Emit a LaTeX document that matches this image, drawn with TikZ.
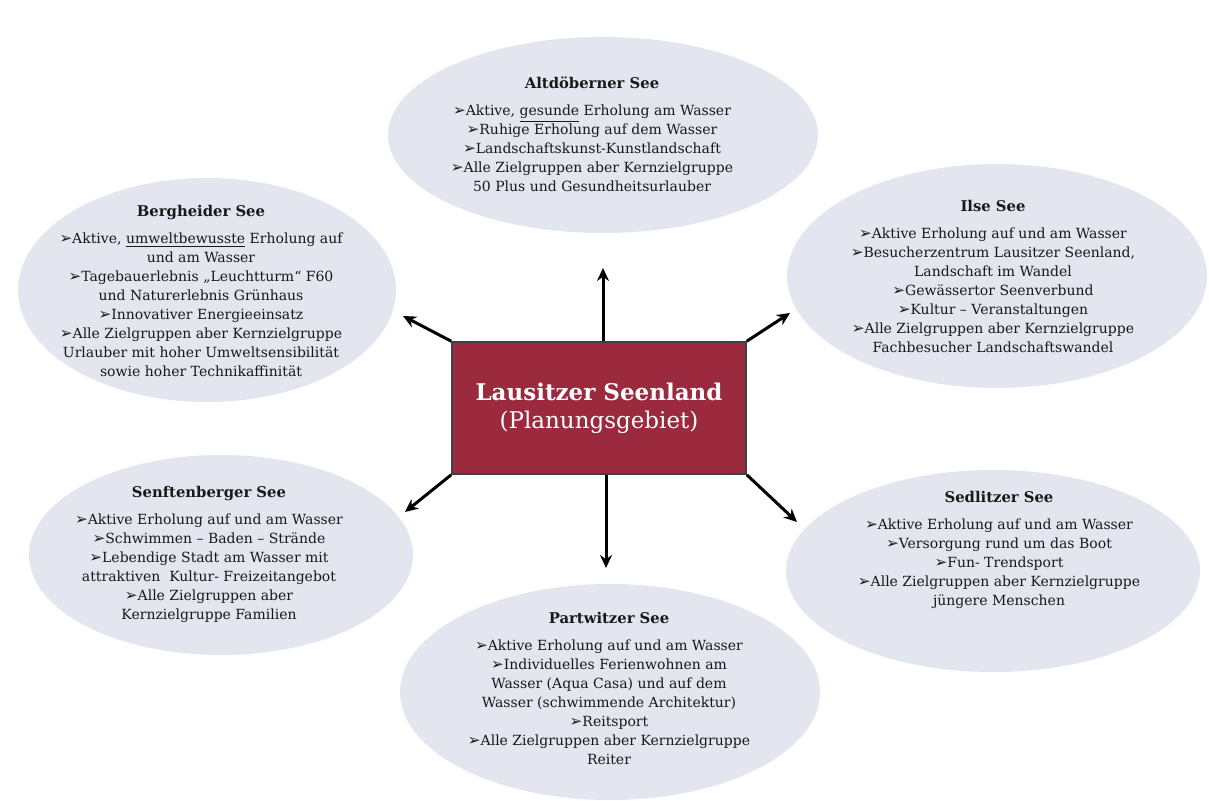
\documentclass[tikz,border=0pt]{standalone}
\usepackage{fontspec}
\setmainfont{DejaVu Serif}
\newfontfamily\zeichenfont{DejaVu Sans}
\usetikzlibrary{shapes.geometric,arrows.meta}
\definecolor{seegrau}{RGB}{227,229,239}
\definecolor{kastenrot}{RGB}{155,42,62}
\newcommand{\pf}{{\zeichenfont\fontsize{7.6}{9.5}\selectfont ➢}}
\newcommand{\seename}[1]{{\fontsize{7.4}{9.5}\selectfont\bfseries #1}}

\begin{document}
\begin{tikzpicture}[x=0.5pt,y=-0.5pt,
  see/.style={ellipse,fill=seegrau,inner sep=0pt},
  seetext/.style={align=center,inner sep=0pt,text=black!90,font=\fontsize{7}{9.5}\selectfont},
  pfeil/.style={-{Stealth[length=6.5pt,width=6pt]},line width=1.5pt}]
  \useasboundingbox (0,0) rectangle (1209,801);
  % die Seen
  \node[see,minimum width=215pt,minimum height=98pt]   (alt)  at (603,135) {};
  \node[see,minimum width=189pt,minimum height=112pt]  (berg) at (207,290) {};
  \node[see,minimum width=210pt,minimum height=112pt]  (ilse) at (997,276) {};
  \node[see,minimum width=192pt,minimum height=100pt]  (senf) at (221,555) {};
  \node[see,minimum width=207pt,minimum height=101pt]  (sedl) at (993,571) {};
  \node[see,minimum width=210pt,minimum height=108pt]  (part) at (610,692) {};
  \node[seetext] (alt-t) at (592,134) {\seename{Altdöberner See}\\[4pt]
    \pf Aktive, \underline{gesunde} Erholung am Wasser\\
    \pf Ruhige Erholung auf dem Wasser\\
    \pf Landschaftskunst-Kunstlandschaft\\
    \pf Alle Zielgruppen aber Kernzielgruppe\\
    50 Plus und Gesundheitsurlauber};
  \node[seetext] (berg-t) at (201,291) {\seename{Bergheider See}\\[4pt]
    \pf Aktive, \underline{umweltbewusste} Erholung auf\\
    und am Wasser\\
    \pf Tagebauerlebnis „Leuchtturm“ F60\\
    und Naturerlebnis Grünhaus\\
    \pf Innovativer Energieeinsatz\\
    \pf Alle Zielgruppen aber Kernzielgruppe\\
    Urlauber mit hoher Umweltsensibilität\\
    sowie hoher Technikaffinität};
  \node[seetext] (ilse-t) at (993,276) {\seename{Ilse See}\\[4pt]
    \pf Aktive Erholung auf und am Wasser\\
    \pf Besucherzentrum Lausitzer Seenland,\\
    Landschaft im Wandel\\
    \pf Gewässertor Seenverbund\\
    \pf Kultur – Veranstaltungen\\
    \pf Alle Zielgruppen aber Kernzielgruppe\\
    Fachbesucher Landschaftswandel};
  \node[seetext] (senf-t) at (209,554) {\seename{Senftenberger See}\\[4pt]
    \pf Aktive Erholung auf und am Wasser\\
    \pf Schwimmen – Baden – Strände\\
    \pf Lebendige Stadt am Wasser mit\\
    attraktiven~ Kultur- Freizeitangebot\\
    \pf Alle Zielgruppen aber\\
    Kernzielgruppe Familien};
  \node[seetext] (sedl-t) at (999,550) {\seename{Sedlitzer See}\\[4pt]
    \pf Aktive Erholung auf und am Wasser\\
    \pf Versorgung rund um das Boot\\
    \pf Fun- Trendsport\\
    \pf Alle Zielgruppen aber Kernzielgruppe\\
    jüngere Menschen};
  \node[seetext] (part-t) at (609,688) {\seename{Partwitzer See}\\[4pt]
    \pf Aktive Erholung auf und am Wasser\\
    \pf Individuelles Ferienwohnen am\\
    Wasser (Aqua Casa) und auf dem\\
    Wasser (schwimmende Architektur)\\
    \pf Reitsport\\
    \pf Alle Zielgruppen aber Kernzielgruppe\\
    Reiter};
  % Planungsgebiet in der Mitte
  \node[rectangle,fill=kastenrot,draw=black!75,line width=0.8pt,
        minimum width=147pt,minimum height=66pt,align=center,text=white,
        font=\fontsize{11.5}{14}\selectfont] (kasten) at (599,408)
        {{\bfseries Lausitzer Seenland}\\(Planungsgebiet)};
  % Pfeilspitzen
  \coordinate (zA) at (603,268);
  \coordinate (zB) at (403,316);
  \coordinate (zI) at (790,313);
  \coordinate (zS) at (405,512);
  \coordinate (zD) at (797,522);
  \coordinate (zP) at (606,568);
  \draw[pfeil] (kasten.north -| zA) -- (zA);
  \draw[pfeil] (kasten.north west) -- (zB);
  \draw[pfeil] (kasten.north east) -- (zI);
  \draw[pfeil] (kasten.south west) -- (zS);
  \draw[pfeil] (kasten.south east) -- (zD);
  \draw[pfeil] (kasten.south -| zP) -- (zP);
\end{tikzpicture}
\end{document}
